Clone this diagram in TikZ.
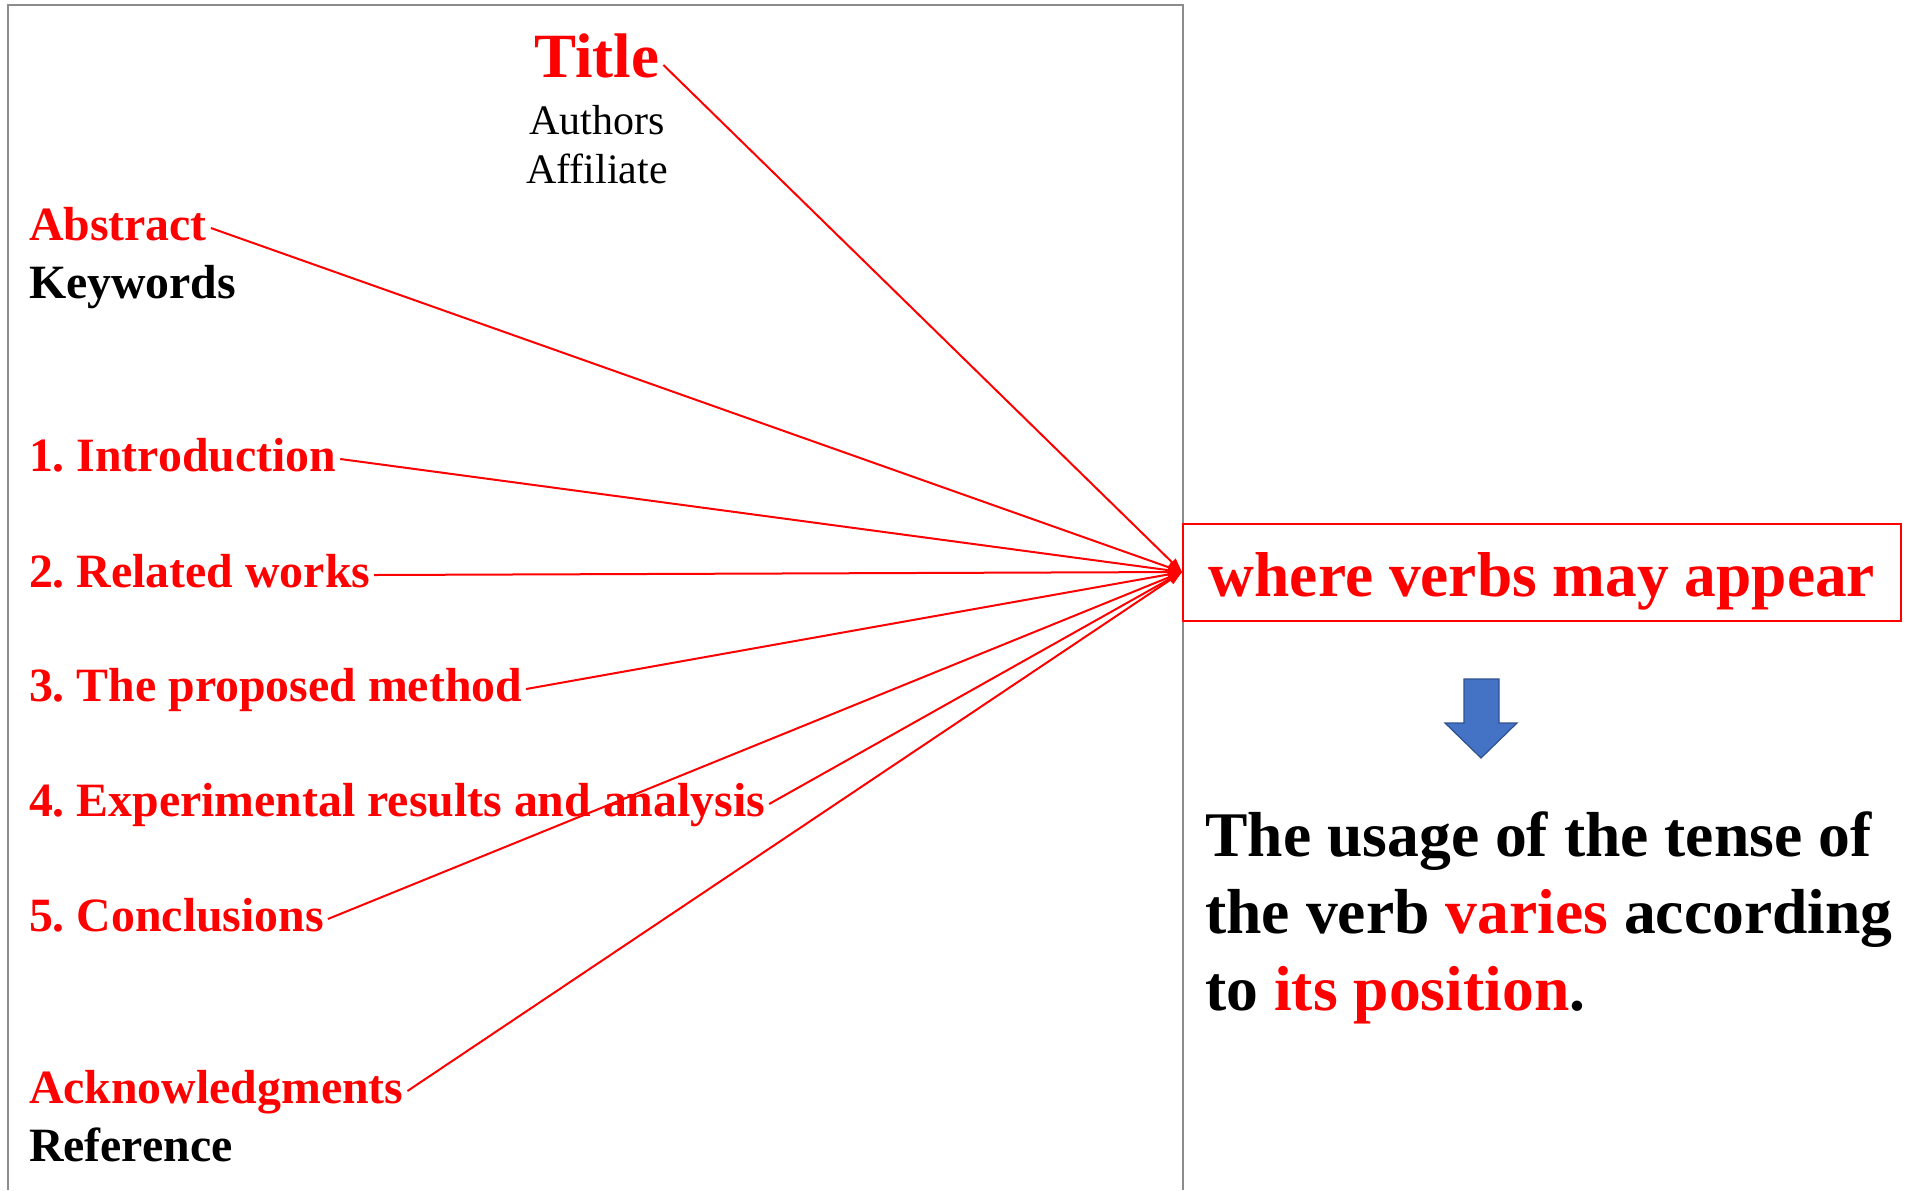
\documentclass[tikz,border=0pt]{standalone}
\usepackage{fontspec}
\setmainfont{Liberation Serif}
\usetikzlibrary{arrows.meta}
\frenchspacing

\definecolor{pagegray}{RGB}{140,140,140}
\definecolor{downblue}{RGB}{68,114,196}
\definecolor{downedge}{RGB}{47,82,143}

\begin{document}
\begin{tikzpicture}[x=0.5pt, y=-0.5pt,
    part/.style={anchor=base west, inner sep=0pt, outer xsep=2pt,
        text height=16pt, text depth=4pt,
        font=\fontsize{23.9}{28}\selectfont\bfseries},
    hot/.style={part, text=red},
    plain/.style={anchor=base, inner sep=0pt, font=\fontsize{21}{25}\selectfont},
    link/.style={red, line width=1pt, -{Triangle[length=7pt, width=5pt]}}]

\useasboundingbox (0,0) rectangle (1921,1190);

% the paper page
\draw[pagegray, line width=1pt] (8,1190) -- (8,5) -- (1183,5) -- (1183,1190);

\node[hot, anchor=base, font=\fontsize{31.5}{36}\selectfont\bfseries] (title) at (597,77) {Title};
\node[plain] (authors) at (597,134) {Authors};
\node[plain] (affil) at (597,183) {Affiliate};

\node[hot] (abstract) at (25,240) {Abstract};
\node[part] (keywords) at (25,298) {Keywords};

\node[hot] (intro) at (25,471) {1. Introduction};
\node[hot] (related) at (25,587) {2. Related works};
\node[hot] (method) at (25,701) {3. The proposed method};
\node[hot] (results) at (25,816) {4. Experimental results and analysis};
\node[hot] (concl) at (25,931) {5. Conclusions};

\node[hot] (ack) at (25,1103) {Acknowledgments};
\node[part] (refs) at (25,1161) {Reference};

% right side
\node[draw=red, line width=1pt, inner sep=0pt, minimum width=359pt, minimum height=48.5pt,
    text height=24pt, text depth=0pt, text=red,
    font=\fontsize{31.7}{36}\selectfont\bfseries] (verbs) at (1542,572) {where verbs may appear};

\foreach \src in {title,abstract,intro,related,method,results,concl,ack}
    \draw[link] (\src.east) -- (verbs.west);

\filldraw[fill=downblue, draw=downedge, line width=0.6pt]
    (1464,679) -- (1499,679) -- (1499,723) -- (1517,723) -- (1481,758)
    -- (1445,723) -- (1464,723) -- cycle;

\node[anchor=base west, inner sep=0pt, align=left,
    font=\fontsize{31.8}{38.3}\selectfont\bfseries] (usage) at (1205,1010)
    {The usage of the tense of\\the verb \textcolor{red}{varies} according\\to \textcolor{red}{its position}.};

\end{tikzpicture}
\end{document}
